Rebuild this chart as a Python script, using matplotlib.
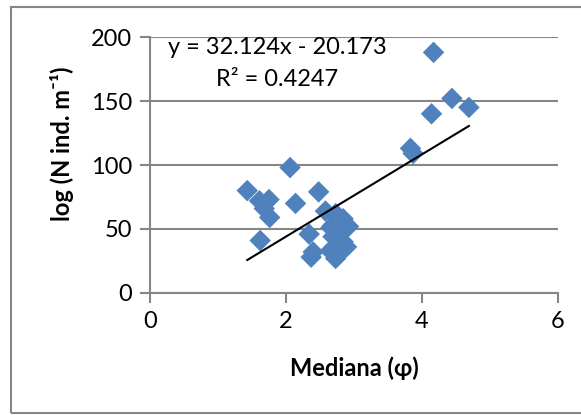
import matplotlib.pyplot as plt
from matplotlib.patches import Rectangle

plt.rcParams['font.family'] = ['Lato', 'DejaVu Sans']

# Mediana (phi) vs log abundance
mediana = [4.17, 4.44, 4.14, 4.69, 3.83, 3.87,
           2.06, 1.43, 2.48, 1.61, 1.75, 1.68, 1.76, 2.14, 1.62,
           2.58, 2.34, 2.40, 2.37, 2.73, 2.84, 2.92, 2.66, 2.69,
           2.76, 2.84, 2.89, 2.65, 2.73, 2.78, 2.69, 2.82]
abund = [188, 152, 140, 145, 113, 109,
         98, 80, 79, 72, 73, 66, 59, 70, 41,
         64, 46, 32, 28, 62, 58, 52, 51, 53,
         46, 40, 36, 33, 27, 31, 44, 40]

# trend line as printed on the chart
slope = 32.124
intercept = -20.173
x_range = [1.43, 4.69]

fig = plt.figure(figsize=(5.81, 4.15), dpi=100)
ax = fig.add_axes([0.2582, 0.294, 0.7022, 0.6168])

grey = '#868686'
ax.set_xlim(0, 6)
ax.set_ylim(0, 200)
ax.set_xticks([0, 2, 4, 6])
ax.set_yticks([0, 50, 100, 150, 200])
ax.yaxis.grid(True, color=grey, linewidth=1.5)
ax.set_axisbelow(True)
for side in ['top', 'right']:
    ax.spines[side].set_visible(False)
for side in ['left', 'bottom']:
    ax.spines[side].set_color(grey)
    ax.spines[side].set_linewidth(1.5)
ax.tick_params(colors=grey, width=1.5, length=7, labelcolor='black',
               labelsize=17, pad=6)

ax.scatter(mediana, abund, marker='D', s=120, color='#4F81BD',
           edgecolors='none', zorder=3)

y_line = [slope * v + intercept for v in x_range]
ax.plot(x_range, y_line, color='black', linewidth=1.5, zorder=4)

fig.text(277 / 581, 1 - 48 / 415, 'y = 32.124x - 20.173', fontsize=17,
         ha='center', va='center')
fig.text(277 / 581, 1 - 80 / 415, 'R² = 0.4247', fontsize=17,
         ha='center', va='center')

fig.text(354 / 581, 1 - 368 / 415, 'Mediana (φ)', fontsize=17,
         fontweight='bold', ha='center', va='center')
fig.text(62 / 581, 1 - 144 / 415, 'log (N ind. m⁻¹)', fontsize=17,
         fontweight='bold', ha='center', va='center', rotation=90)

fig.patches.append(Rectangle((11 / 581, 2 / 415), 1.2, 0.978,
                             transform=fig.transFigure, fill=False,
                             edgecolor=grey, linewidth=1.5))

plt.savefig('out.png', dpi=100)
